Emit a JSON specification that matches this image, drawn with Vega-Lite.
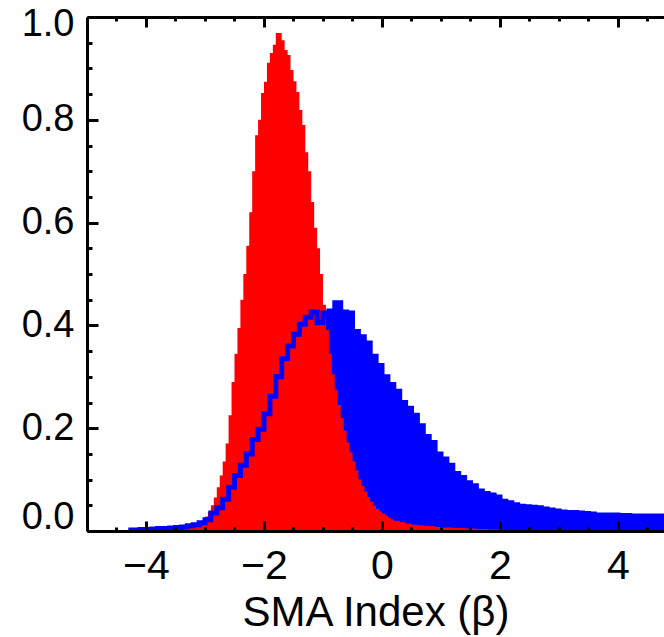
{
  "$schema": "https://vega.github.io/schema/vega-lite/v6.json",
  "width": 577,
  "height": 514,
  "autosize": {"type": "none"},
  "padding": {"left": 87, "top": 17, "right": 0, "bottom": 106},
  "background": "white",
  "config": {
    "view": {"stroke": null},
    "axis": {"labelFont": "Liberation Sans", "titleFont": "Liberation Sans", "labelColor": "black", "titleColor": "black", "grid": false, "domainColor": "black", "tickColor": "black", "domainWidth": 3, "tickWidth": 3, "tickCap": "butt"}
  },
  "datasets": {
    "red": [
      {"lo": -3.60, "h": 0.001}, {"lo": -3.55, "h": 0.002}, {"lo": -3.50, "h": 0.002}, {"lo": -3.45, "h": 0.003},
      {"lo": -3.40, "h": 0.005}, {"lo": -3.35, "h": 0.006}, {"lo": -3.30, "h": 0.008}, {"lo": -3.25, "h": 0.010},
      {"lo": -3.20, "h": 0.012}, {"lo": -3.15, "h": 0.014}, {"lo": -3.10, "h": 0.017}, {"lo": -3.05, "h": 0.021},
      {"lo": -3.00, "h": 0.028}, {"lo": -2.95, "h": 0.038}, {"lo": -2.90, "h": 0.050}, {"lo": -2.85, "h": 0.065},
      {"lo": -2.80, "h": 0.085}, {"lo": -2.75, "h": 0.108}, {"lo": -2.70, "h": 0.135}, {"lo": -2.65, "h": 0.170},
      {"lo": -2.60, "h": 0.225}, {"lo": -2.55, "h": 0.290}, {"lo": -2.50, "h": 0.345}, {"lo": -2.45, "h": 0.395},
      {"lo": -2.40, "h": 0.450}, {"lo": -2.35, "h": 0.500}, {"lo": -2.30, "h": 0.555}, {"lo": -2.25, "h": 0.620},
      {"lo": -2.20, "h": 0.700}, {"lo": -2.15, "h": 0.770}, {"lo": -2.10, "h": 0.800}, {"lo": -2.05, "h": 0.852},
      {"lo": -2.00, "h": 0.874}, {"lo": -1.95, "h": 0.911}, {"lo": -1.90, "h": 0.930}, {"lo": -1.85, "h": 0.946},
      {"lo": -1.80, "h": 0.969}, {"lo": -1.75, "h": 0.969}, {"lo": -1.70, "h": 0.955}, {"lo": -1.65, "h": 0.936},
      {"lo": -1.60, "h": 0.926}, {"lo": -1.55, "h": 0.897}, {"lo": -1.50, "h": 0.875}, {"lo": -1.45, "h": 0.854},
      {"lo": -1.40, "h": 0.819}, {"lo": -1.35, "h": 0.790}, {"lo": -1.30, "h": 0.737}, {"lo": -1.25, "h": 0.700},
      {"lo": -1.20, "h": 0.640}, {"lo": -1.15, "h": 0.590}, {"lo": -1.10, "h": 0.550}, {"lo": -1.05, "h": 0.500},
      {"lo": -1.00, "h": 0.440}, {"lo": -0.95, "h": 0.391}, {"lo": -0.90, "h": 0.345}, {"lo": -0.85, "h": 0.305},
      {"lo": -0.80, "h": 0.275}, {"lo": -0.75, "h": 0.245}, {"lo": -0.70, "h": 0.220}, {"lo": -0.65, "h": 0.195},
      {"lo": -0.60, "h": 0.172}, {"lo": -0.55, "h": 0.153}, {"lo": -0.50, "h": 0.135}, {"lo": -0.45, "h": 0.118},
      {"lo": -0.40, "h": 0.100}, {"lo": -0.35, "h": 0.088}, {"lo": -0.30, "h": 0.077}, {"lo": -0.25, "h": 0.066},
      {"lo": -0.20, "h": 0.057}, {"lo": -0.15, "h": 0.049}, {"lo": -0.10, "h": 0.043}, {"lo": -0.05, "h": 0.038},
      {"lo": 0.00, "h": 0.034}, {"lo": 0.05, "h": 0.030}, {"lo": 0.10, "h": 0.026}, {"lo": 0.15, "h": 0.023},
      {"lo": 0.20, "h": 0.020}, {"lo": 0.30, "h": 0.017}, {"lo": 0.40, "h": 0.014}, {"lo": 0.50, "h": 0.012},
      {"lo": 0.60, "h": 0.011}, {"lo": 0.70, "h": 0.010}, {"lo": 0.80, "h": 0.009}, {"lo": 0.90, "h": 0.008},
      {"lo": 1.00, "h": 0.007}, {"lo": 1.20, "h": 0.006}, {"lo": 1.40, "h": 0.005}, {"lo": 1.60, "h": 0.004},
      {"lo": 1.80, "h": 0.003}, {"lo": 2.00, "h": 0.002}, {"lo": 2.20, "h": 0.0}
    ],
    "blue": [
      {"lo": -4.30, "h": 0.002}, {"lo": -4.20, "h": 0.002}, {"lo": -4.10, "h": 0.003}, {"lo": -4.00, "h": 0.003},
      {"lo": -3.90, "h": 0.004}, {"lo": -3.80, "h": 0.005}, {"lo": -3.70, "h": 0.005}, {"lo": -3.60, "h": 0.006},
      {"lo": -3.50, "h": 0.007}, {"lo": -3.40, "h": 0.008}, {"lo": -3.30, "h": 0.010}, {"lo": -3.20, "h": 0.012},
      {"lo": -3.10, "h": 0.016}, {"lo": -3.00, "h": 0.022}, {"lo": -2.90, "h": 0.035}, {"lo": -2.80, "h": 0.045},
      {"lo": -2.70, "h": 0.062}, {"lo": -2.60, "h": 0.085}, {"lo": -2.50, "h": 0.108}, {"lo": -2.40, "h": 0.128},
      {"lo": -2.30, "h": 0.150}, {"lo": -2.20, "h": 0.178}, {"lo": -2.10, "h": 0.198}, {"lo": -2.00, "h": 0.228},
      {"lo": -1.90, "h": 0.262}, {"lo": -1.80, "h": 0.300}, {"lo": -1.70, "h": 0.335}, {"lo": -1.60, "h": 0.360},
      {"lo": -1.50, "h": 0.383}, {"lo": -1.40, "h": 0.402}, {"lo": -1.30, "h": 0.416}, {"lo": -1.20, "h": 0.426},
      {"lo": -1.10, "h": 0.405}, {"lo": -1.00, "h": 0.424}, {"lo": -0.90, "h": 0.428}, {"lo": -0.80, "h": 0.444},
      {"lo": -0.70, "h": 0.426}, {"lo": -0.60, "h": 0.424}, {"lo": -0.50, "h": 0.388}, {"lo": -0.40, "h": 0.378},
      {"lo": -0.30, "h": 0.366}, {"lo": -0.20, "h": 0.340}, {"lo": -0.10, "h": 0.322}, {"lo": 0.00, "h": 0.300},
      {"lo": 0.10, "h": 0.285}, {"lo": 0.20, "h": 0.272}, {"lo": 0.30, "h": 0.250}, {"lo": 0.40, "h": 0.239},
      {"lo": 0.50, "h": 0.225}, {"lo": 0.60, "h": 0.205}, {"lo": 0.70, "h": 0.184}, {"lo": 0.80, "h": 0.172},
      {"lo": 0.90, "h": 0.150}, {"lo": 1.00, "h": 0.140}, {"lo": 1.10, "h": 0.128}, {"lo": 1.20, "h": 0.112},
      {"lo": 1.30, "h": 0.104}, {"lo": 1.40, "h": 0.094}, {"lo": 1.50, "h": 0.088}, {"lo": 1.60, "h": 0.078},
      {"lo": 1.70, "h": 0.073}, {"lo": 1.80, "h": 0.070}, {"lo": 1.90, "h": 0.066}, {"lo": 2.00, "h": 0.058},
      {"lo": 2.10, "h": 0.055}, {"lo": 2.20, "h": 0.051}, {"lo": 2.30, "h": 0.048}, {"lo": 2.40, "h": 0.047},
      {"lo": 2.50, "h": 0.046}, {"lo": 2.60, "h": 0.045}, {"lo": 2.70, "h": 0.043}, {"lo": 2.80, "h": 0.041},
      {"lo": 2.90, "h": 0.039}, {"lo": 3.00, "h": 0.037}, {"lo": 3.10, "h": 0.036}, {"lo": 3.20, "h": 0.036},
      {"lo": 3.30, "h": 0.035}, {"lo": 3.40, "h": 0.034}, {"lo": 3.50, "h": 0.033}, {"lo": 3.60, "h": 0.031},
      {"lo": 3.70, "h": 0.031}, {"lo": 3.80, "h": 0.031}, {"lo": 3.90, "h": 0.031}, {"lo": 4.00, "h": 0.030},
      {"lo": 4.10, "h": 0.030}, {"lo": 4.20, "h": 0.029}, {"lo": 4.30, "h": 0.029}, {"lo": 4.40, "h": 0.029},
      {"lo": 4.50, "h": 0.029}, {"lo": 4.60, "h": 0.029}, {"lo": 4.70, "h": 0.029}, {"lo": 4.80, "h": 0.029}
    ]
  },
  "resolve": {"axis": {"x": "independent", "y": "independent"}},
  "layer": [
    {
      "data": {"name": "blue"},
      "mark": {"type": "area", "interpolate": "step-after", "color": "#0000FF", "clip": true},
      "encoding": {
        "x": {"field": "lo", "type": "quantitative", "scale": {"domain": [-5, 4.78], "nice": false, "zero": false},
          "axis": {"orient": "bottom", "values": [-4, -2, 0, 2, 4], "tickSize": -10, "labelPadding": 25, "labelFontSize": 41, "labelAngle": 0,
            "title": "SMA Index (β)", "titleFontSize": 42, "titleFontWeight": "normal", "titlePadding": 6, "zindex": 2}},
        "y": {"field": "h", "type": "quantitative", "scale": {"domain": [0, 1], "nice": false},
          "axis": {"orient": "left", "values": [0, 0.2, 0.4, 0.6, 0.8, 1.0], "format": ".1f", "tickSize": -11, "labelPadding": 24, "labelFontSize": 38,
            "labelOffset": {"condition": [{"test": "datum.value >= 1", "value": 7}, {"test": "datum.value <= 0", "value": -14}], "value": 0},
            "title": null, "zindex": 2}}
      }
    },
    {
      "data": {"name": "red"},
      "mark": {"type": "area", "interpolate": "step-after", "color": "#FF0000", "clip": true},
      "encoding": {
        "x": {"field": "lo", "type": "quantitative", "scale": {"domain": [-5, 4.78], "nice": false, "zero": false},
          "axis": {"orient": "bottom", "values": [-4.5, -3.5, -3, -2.5, -1.5, -1, -0.5, 0.5, 1, 1.5, 2.5, 3, 3.5, 4.5], "tickSize": -4, "labels": false, "domain": false, "title": null, "zindex": 2}},
        "y": {"field": "h", "type": "quantitative", "scale": {"domain": [0, 1], "nice": false},
          "axis": {"orient": "left", "values": [0.05, 0.1, 0.15, 0.25, 0.3, 0.35, 0.45, 0.5, 0.55, 0.65, 0.7, 0.75, 0.85, 0.9, 0.95], "tickSize": -5, "labels": false, "domain": false, "title": null, "zindex": 2}}
      }
    },
    {
      "data": {"name": "blue"},
      "mark": {"type": "line", "interpolate": "step-after", "color": "#0000FF", "strokeWidth": 5, "clip": true},
      "encoding": {
        "x": {"field": "lo", "type": "quantitative", "scale": {"domain": [-5, 4.78], "nice": false, "zero": false},
          "axis": {"orient": "top", "values": [-4, -2, 0, 2, 4], "tickSize": -10, "labels": false, "title": null, "zindex": 2}},
        "y": {"field": "h", "type": "quantitative", "scale": {"domain": [0, 1], "nice": false}, "axis": null}
      }
    },
    {
      "data": {"name": "blue"},
      "mark": {"type": "line", "opacity": 0, "clip": true},
      "encoding": {
        "x": {"field": "lo", "type": "quantitative", "scale": {"domain": [-5, 4.78], "nice": false, "zero": false},
          "axis": {"orient": "top", "values": [-4.5, -3.5, -3, -2.5, -1.5, -1, -0.5, 0.5, 1, 1.5, 2.5, 3, 3.5, 4.5], "tickSize": -4, "labels": false, "domain": false, "title": null, "zindex": 2}},
        "y": {"field": "h", "type": "quantitative", "scale": {"domain": [0, 1], "nice": false}, "axis": null}
      }
    }
  ]
}
